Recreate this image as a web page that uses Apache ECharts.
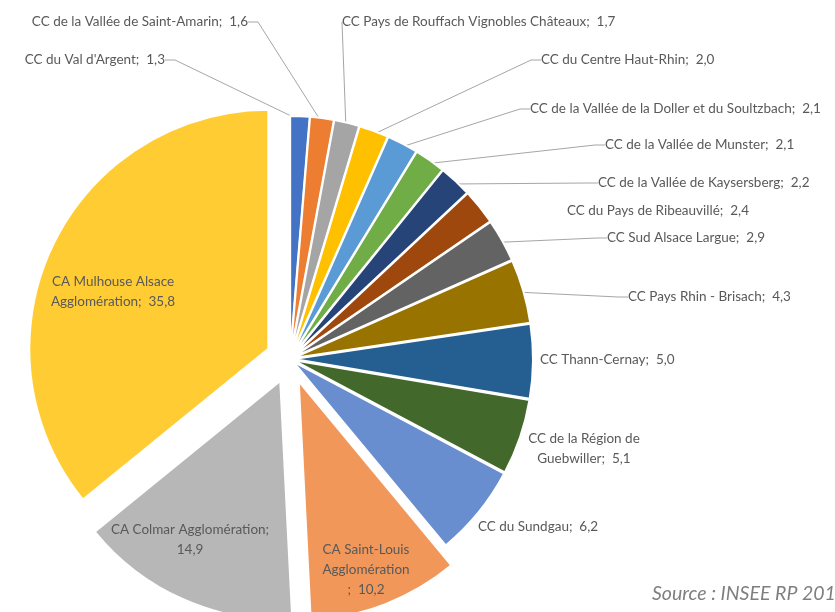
<!DOCTYPE html>
<html><head><meta charset="utf-8">
<script src="https://cdn.jsdelivr.net/npm/echarts@6/dist/echarts.min.js"></script>
<style>html,body{margin:0;padding:0;background:#fff}#c{width:835px;height:612px}</style>
</head><body><div id="c"></div>
<script>
// ---- data (clockwise from 12 o'clock) ----
const categories = [
  "CC du Val d'Argent",
  "CC de la Vallée de Saint-Amarin",
  "CC Pays de Rouffach Vignobles Châteaux",
  "CC du Centre Haut-Rhin",
  "CC de la Vallée de la Doller et du Soultzbach",
  "CC de la Vallée de Munster",
  "CC de la Vallée de Kaysersberg",
  "CC du Pays de Ribeauvillé",
  "CC Sud Alsace Largue",
  "CC Pays Rhin - Brisach",
  "CC Thann-Cernay",
  "CC de la Région de Guebwiller",
  "CC du Sundgau",
  "CA Saint-Louis Agglomération",
  "CA Colmar Agglomération",
  "CA Mulhouse Alsace Agglomération"
];
const values = [1.3, 1.6, 1.7, 2.0, 2.1, 2.1, 2.2, 2.4, 2.9, 4.3, 5.0, 5.1, 6.2, 10.2, 14.9, 35.8];
const colors = ['#4472C4','#ED7D31','#A5A5A5','#FFC000','#5B9BD5','#70AD47','#264478','#9E480E',
                '#636363','#997300','#255E91','#43682B','#698ED0','#F1975A','#B7B7B7','#FFCD33'];
const explodedSlices = ["CA Saint-Louis Agglomération", "CA Colmar Agglomération", "CA Mulhouse Alsace Agglomération"];
const sourceNote = 'Source : INSEE RP 201';

// ---- label text wrapping (Excel layout) ----
const wrapTpl = {
  "CA Mulhouse Alsace Agglomération": "CA Mulhouse Alsace\nAgglomération;  {v}",
  "CA Colmar Agglomération": "CA Colmar Agglomération;\n{v}",
  "CA Saint-Louis Agglomération": "CA Saint-Louis\nAgglomération\n;  {v}",
  "CC de la Région de Guebwiller": "CC de la Région de\nGuebwiller;  {v}"
};
// ---- label placement (px) ----
const labelPlacement = {
  "CC du Val d'Argent": {x:165, y:60, align:'right', line:true},
  "CC de la Vallée de Saint-Amarin": {x:248, y:22, align:'right', line:true},
  "CC Pays de Rouffach Vignobles Châteaux": {x:342, y:22, align:'left', line:true},
  "CC du Centre Haut-Rhin": {x:541, y:60, align:'left', line:true},
  "CC de la Vallée de la Doller et du Soultzbach": {x:530, y:109, align:'left', line:true},
  "CC de la Vallée de Munster": {x:605, y:145, align:'left', line:true},
  "CC de la Vallée de Kaysersberg": {x:598, y:183, align:'left', line:true},
  "CC du Pays de Ribeauvillé": {x:567, y:211, align:'left', line:false},
  "CC Sud Alsace Largue": {x:607, y:238, align:'left', line:true},
  "CC Pays Rhin - Brisach": {x:628, y:297, align:'left', line:true},
  "CC Thann-Cernay": {x:540, y:360, align:'left', line:false},
  "CC de la Région de Guebwiller": {x:584, y:449, align:'center', line:false},
  "CC du Sundgau": {x:478, y:527, align:'left', line:false},
  "CA Saint-Louis Agglomération": {x:366, y:570, align:'center', line:false},
  "CA Colmar Agglomération": {x:190, y:540, align:'center', line:false},
  "CA Mulhouse Alsace Agglomération": {x:113, y:292, align:'center', line:false}
};

const PIE_CENTER = [290, 359];
const PIE_RADIUS = 239;
const fmtNum = v => v.toFixed(1).replace('.', ',');
const isBig = name => explodedSlices.indexOf(name) >= 0;
const transparent = { color: 'rgba(0,0,0,0)', borderWidth: 0 };

function slices(showFn) {
  return categories.map((name, i) => {
    const visible = showFn(name);
    return {
      name: name,
      value: values[i],
      selected: visible,
      itemStyle: visible ? { color: colors[i] } : transparent
    };
  });
}

const common = {
  type: 'pie',
  center: PIE_CENTER,
  radius: [0, PIE_RADIUS],
  startAngle: 90,
  clockwise: true,
  avoidLabelOverlap: false,
  emphasis: { disabled: true },
  silent: true
};

const chart = echarts.init(document.getElementById('c'), null, {renderer: 'canvas'});
chart.setOption({
  animation: false,
  backgroundColor: '#ffffff',
  graphic: [{
    type: 'text', left: 652, top: 584,
    style: { text: sourceNote, font: 'italic 19.5px Lato', fill: '#7f7f7f' }
  }],
  series: [
    // small slices, slightly exploded
    Object.assign({}, common, {
      selectedMode: 'multiple',
      selectedOffset: 4,
      itemStyle: { borderColor: '#ffffff', borderWidth: 2 },
      select: { itemStyle: { borderColor: '#ffffff', borderWidth: 2 } },
      label: { show: false }, labelLine: { show: false },
      data: slices(n => !isBig(n))
    }),
    // big slices, strongly exploded
    Object.assign({}, common, {
      selectedMode: 'multiple',
      selectedOffset: 24,
      itemStyle: { borderColor: '#ffffff', borderWidth: 2 },
      select: { itemStyle: { borderColor: '#ffffff', borderWidth: 2 } },
      label: { show: false }, labelLine: { show: false },
      data: slices(n => isBig(n))
    }),
    // labels and leader lines
    Object.assign({}, common, {
      selectedMode: false,
      itemStyle: transparent,
      label: {
        show: true,
        position: 'outside',
        fontFamily: 'Lato',
        fontSize: 13.5,
        color: '#595959',
        lineHeight: 20,
        formatter: p => {
          const v = fmtNum(p.value);
          const t = wrapTpl[p.name];
          return t ? t.replace('{v}', v) : p.name + ';  ' + v;
        }
      },
      labelLine: { show: true, length: 10, length2: 10, smooth: false,
                   lineStyle: { color: '#a6a6a6', width: 1 } },
      labelLayout: function (params) {
        const p = labelPlacement[categories[params.dataIndex]];
        return { x: p.x, y: p.y, align: p.align, verticalAlign: 'middle' };
      },
      data: categories.map((name, i) => ({
        name: name, value: values[i],
        labelLine: { show: labelPlacement[name].line }
      }))
    })
  ]
});
</script>
</body></html>
